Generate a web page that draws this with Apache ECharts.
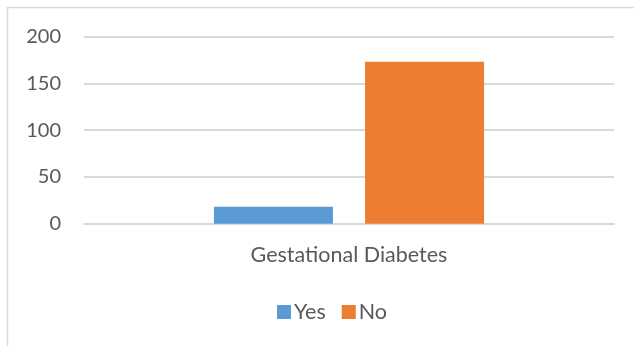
<!DOCTYPE html>
<html>
<head>
<meta charset="utf-8">
<script src="https://cdn.jsdelivr.net/npm/echarts@6/dist/echarts.min.js"></script>
<style>
  html, body { margin: 0; padding: 0; background: #fff; }
  #chart { width: 634px; height: 346px; }
</style>
</head>
<body>
<div id="chart"></div>
<script>
// Gestational diabetes responses
const categories = ['Gestational Diabetes'];
const yesValues = [18];
const noValues = [173];
const seriesNames = ['Yes', 'No'];
const yTicks = { min: 0, max: 200, interval: 50 };

const textColor = '#595959';
const gridColor = '#d9d9d9';
const fontFamily = 'Lato, "Open Sans", sans-serif';

const chart = echarts.init(document.getElementById('chart'), null, { renderer: 'canvas' });

chart.setOption({
  animation: false,
  backgroundColor: '#fff',
  graphic: [{
    type: 'rect',
    shape: { x: 7.5, y: 7.5, width: 700, height: 400 },
    style: { fill: 'none', stroke: gridColor, lineWidth: 1.5 },
    silent: true
  }],
  grid: { left: 84, right: 20, top: 36.5, bottom: 122.3, containLabel: false },
  legend: {
    data: seriesNames,
    left: 272,
    top: 296,
    itemWidth: 14,
    itemHeight: 14,
    itemGap: 16,
    icon: 'rect',
    textStyle: { color: textColor, fontSize: 21.5, fontFamily: fontFamily, padding: [0, 0, 0, -2] }
  },
  xAxis: {
    type: 'category',
    data: categories,
    axisLine: { show: true, lineStyle: { color: gridColor, width: 2 } },
    axisTick: { show: false },
    axisLabel: { color: textColor, fontSize: 21.5, fontFamily: fontFamily, margin: 20 }
  },
  yAxis: {
    type: 'value',
    min: yTicks.min,
    max: yTicks.max,
    interval: yTicks.interval,
    axisLine: { show: false },
    axisTick: { show: false },
    splitLine: { lineStyle: { color: gridColor, width: 2 } },
    axisLabel: { color: textColor, fontSize: 20, fontFamily: fontFamily, margin: 23 }
  },
  series: [
    {
      name: seriesNames[0],
      type: 'bar',
      data: yesValues,
      barWidth: 119,
      barGap: '27%',
      itemStyle: { color: '#5B9BD5' }
    },
    {
      name: seriesNames[1],
      type: 'bar',
      data: noValues,
      barWidth: 119,
      barGap: '27%',
      itemStyle: { color: '#ED7D31' }
    }
  ]
});
</script>
</body>
</html>
